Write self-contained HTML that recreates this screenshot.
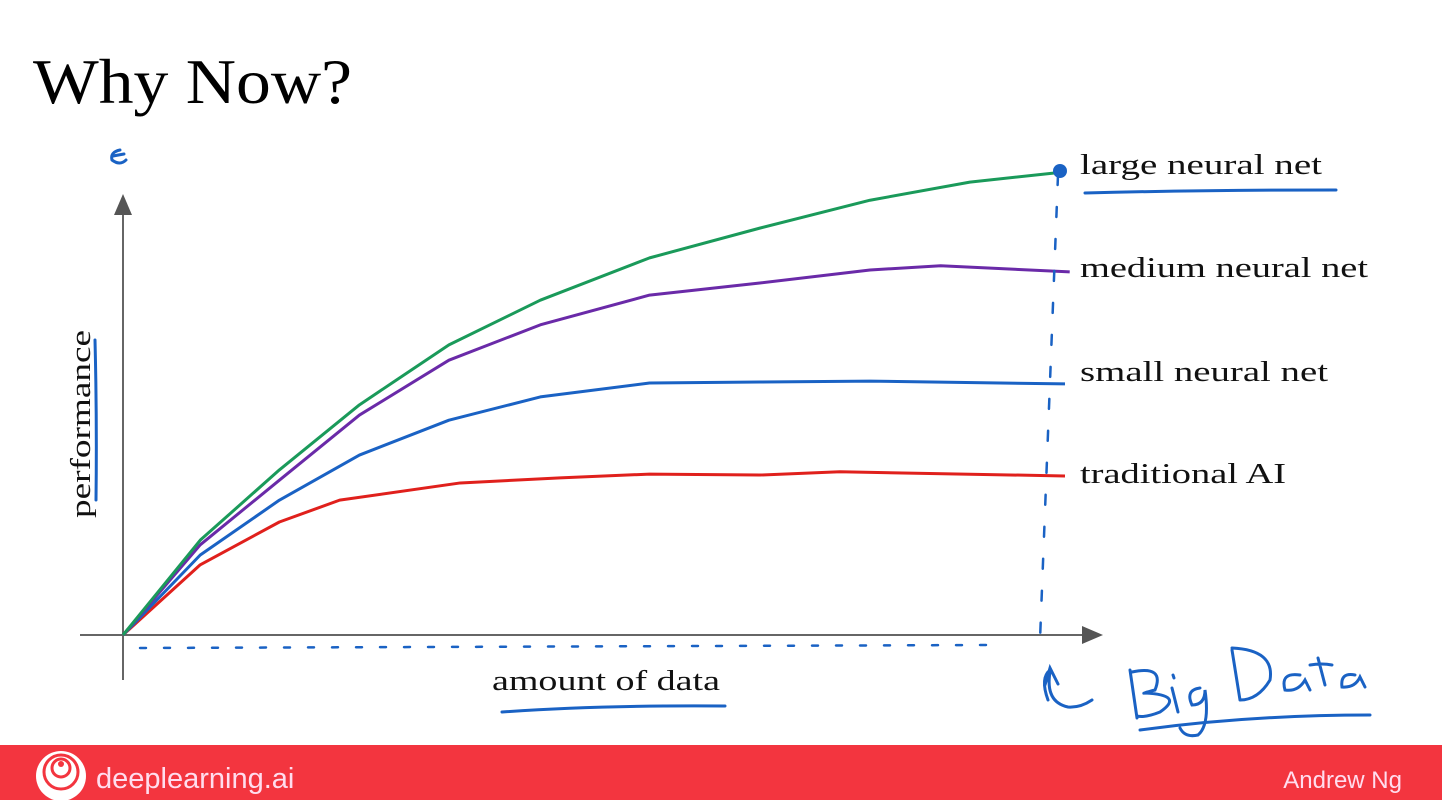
<!DOCTYPE html>
<html><head><meta charset="utf-8"><style>
html,body{margin:0;padding:0;background:#fff;width:1442px;height:800px;overflow:hidden}
svg{display:block}
.lbl{font-family:"Liberation Serif",serif;font-size:29px;fill:#111}
</style></head><body>
<svg width="1442" height="800">
<text x="33" y="103" font-family="Liberation Serif,serif" font-size="64" fill="#000" textLength="319" lengthAdjust="spacingAndGlyphs">Why Now?</text>
<g id="axes">
<line x1="123" y1="680" x2="123" y2="210" stroke="#666" stroke-width="2"/>
<polygon points="114,215 132,215 123,194" fill="#555"/>
<line x1="80" y1="635" x2="1085" y2="635" stroke="#666" stroke-width="2"/>
<polygon points="1082,626 1082,644 1103,635" fill="#555"/>
</g>
<text class="lbl" transform="translate(90,518) rotate(-90)" font-size="27" textLength="188" lengthAdjust="spacingAndGlyphs">performance</text>
<text class="lbl" x="492" y="690" font-size="28" textLength="228" lengthAdjust="spacingAndGlyphs">amount of data</text>
<g id="series"></g>
<g fill="none" stroke="#1a62c4" stroke-width="3" stroke-linecap="round">
<path d="M95 340 Q97 420 96 500"/>
<path d="M502 712 Q600 705 725 706"/>
<path d="M1085 193 Q1200 190 1336 190"/>
<path d="M140 648 L990 645" stroke-dasharray="6 18" stroke-width="2.5"/>
<path d="M1058 175 L1040 640" stroke-dasharray="10 22" stroke-width="2.5"/>
<path d="M1048 700 Q1040 678 1050 670 M1045 685 L1050 668 L1058 684 M1050 672 Q1045 702 1068 707 Q1080 708 1092 700"/>
<path d="M1130 670 L1137 718 M1132 672 Q1165 665 1155 690 Q1140 694 1145 693 Q1185 695 1160 712 Q1145 718 1137 716 M1172 688 L1178 712 M1173 675 l1 3 M1200 688 Q1185 690 1192 705 Q1205 705 1205 690 Q1210 725 1198 735 Q1185 738 1180 728 M1232 650 L1240 700 M1232 648 Q1275 650 1270 680 Q1258 700 1240 700 M1300 675 Q1280 672 1285 690 Q1298 692 1305 680 L1310 690 M1318 658 L1325 685 M1310 665 Q1322 663 1332 665 M1355 675 Q1340 672 1342 687 Q1355 688 1360 677 L1365 687"/>
<path d="M1140 730 Q1250 715 1370 715"/>
<circle cx="1060" cy="171" r="7" fill="#1a62c4" stroke="none"/>
<path d="M120 150 Q110 152 112 160 Q120 166 126 160 M113 156 L124 154" stroke-width="3"/>
</g>
<text class="lbl" x="1080" y="174" textLength="242" lengthAdjust="spacingAndGlyphs">large neural net</text>
<text class="lbl" x="1080" y="277" textLength="288" lengthAdjust="spacingAndGlyphs">medium neural net</text>
<text class="lbl" x="1080" y="381" textLength="248" lengthAdjust="spacingAndGlyphs">small neural net</text>
<text class="lbl" x="1080" y="483" textLength="206" lengthAdjust="spacingAndGlyphs">traditional AI</text>
<rect x="0" y="745" width="1442" height="55" fill="#f3353f"/>
<g>
<circle cx="61" cy="776" r="25" fill="#fff"/>
<circle cx="61" cy="772" r="17" fill="none" stroke="#f3353f" stroke-width="3"/>
<circle cx="61" cy="768" r="9" fill="none" stroke="#f3353f" stroke-width="3"/>
<circle cx="61" cy="764" r="3" fill="#f3353f"/>
</g>
<text x="96" y="788" font-family="Liberation Sans,sans-serif" font-size="29" fill="#fde">deeplearning.ai</text>
<text x="1402" y="788" text-anchor="end" font-family="Liberation Sans,sans-serif" font-size="24" fill="#fde">Andrew Ng</text>
</svg>
<script>
const xs_large=[0,8.2,16.6,25.1,34.6,44.3,55.9,67.6,79.3,89.9,100];
const large=[0,20.4,35.5,49.5,62.4,72.0,81.1,87.5,93.5,97.4,99.6];
const xs_medium=[0,8.2,16.6,25.1,34.6,44.3,55.9,67.6,79.3,86.8,100.5];
const medium=[0,19.4,33.3,47.3,59.1,66.7,73.1,75.7,78.5,79.4,78.1];
const xs_small=[0,8.2,16.6,25.1,34.6,44.3,55.9,67.6,79.3,100];
const small=[0,17.2,29.0,38.7,46.2,51.2,54.2,54.4,54.6,54.0];
const xs_trad=[0,8.2,16.6,23.0,35.8,46.4,55.9,67.6,76.1,100];
const trad=[0,15.1,24.3,29.0,32.7,33.8,34.6,34.4,35.1,34.2];
const sx=v=>123+v*9.42, sy=v=>635-v*4.65;
const g=document.getElementById('series');
function line(xs,ys,color,name){
  const p=document.createElementNS('http://www.w3.org/2000/svg','polyline');
  p.setAttribute('points',xs.map((x,i)=>sx(x)+','+sy(ys[i])).join(' '));
  p.setAttribute('fill','none');p.setAttribute('stroke',color);p.setAttribute('stroke-width','3');
  p.setAttribute('stroke-linejoin','round');
  
  
  g.appendChild(p);
}
line(xs_trad,trad,'#e0201c','traditional-ai-line');
line(xs_small,small,'#1a62c4','small-neural-net-line');
line(xs_medium,medium,'#6a2aa8','medium-neural-net-line');
line(xs_large,large,'#1a9a5a','large-neural-net-line');
</script>
</body></html>
